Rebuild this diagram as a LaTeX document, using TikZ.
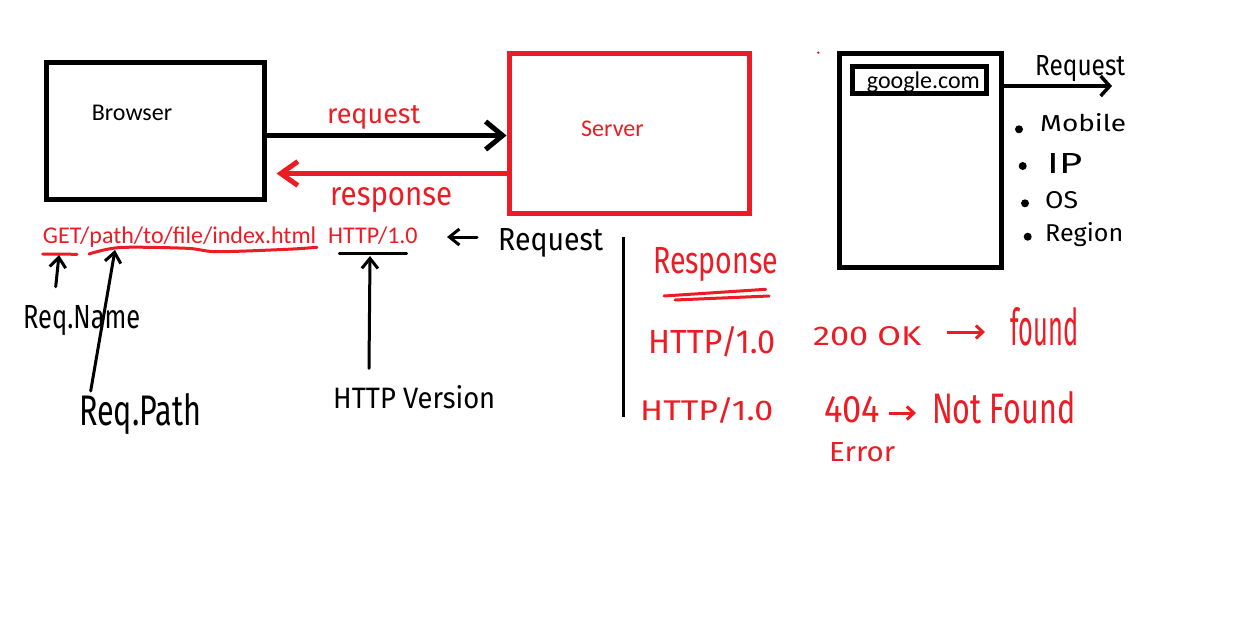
\documentclass[tikz,border=0pt]{standalone}
\usepackage{fontspec}
\setmainfont{Carlito}
\newfontfamily\handfont{Fira Sans}
\usepackage{graphicx}
\usetikzlibrary{arrows.meta}
\definecolor{pred}{RGB}{237,28,36}
\newcommand{\handtxt}[3]{\resizebox{#1pt}{#2pt}{\handfont #3}}
\begin{document}
\begin{tikzpicture}[x=1pt,y=-1pt,
  box/.style={draw,line width=5pt,inner sep=0pt},
  ptext/.style={anchor=base west,inner sep=0pt,font=\fontsize{24pt}{28pt}\selectfont},
  htext/.style={anchor=base west,inner sep=0pt},
  bigarrow/.style={line width=5pt,-{Straight Barb[length=17pt,width=28pt]}},
  smallarrow/.style={line width=3pt,line cap=round,-{Straight Barb[length=10pt,width=16pt]}},
  uline/.style={line width=3pt,line cap=round},
  bullet/.style={fill=black}]
\useasboundingbox (0,0) rectangle (1237,618);
\fill[white] (0,0) rectangle (1237,618);

% boxes
\node[box,minimum width=218pt,minimum height=136.5pt] (browser) at (155,130.75) {};
\node[box,draw=pred,minimum width=240pt,minimum height=159.5pt] (server) at (629,133.25) {};
\node[box,minimum width=161.7pt,minimum height=214pt] (phone) at (920.65,160.5) {};
\node[ptext] (gtext) at (866.7,88.3) {google.com};
\node[box,minimum width=134.3pt,minimum height=26.7pt] (gbox) at (919.65,79.85) {};

% printed texts
\node[ptext] (btext) at (91.7,121) {Browser};
\node[ptext,text=pred] (stext) at (581,136) {Server};
\node[ptext,text=pred] (getp) at (42.7,243.3) {GET/path/to/file/index.html};
\node[ptext,text=pred] (httpv) at (328,243.3) {HTTP/1.0};

% handwritten texts
\node[htext,text=pred] (hreq) at (327,123) {\handtxt{93}{18}{request}};
\node[htext,text=pred] (hresp) at (330,205) {\handtxt{122}{18}{response}};
\node[htext] (req2) at (498,250) {\handtxt{105}{22}{Request}};
\node[htext] (rname) at (23,328) {\handtxt{117}{23}{Req.Name}};
\node[htext] (rpath) at (79,425) {\handtxt{122}{32}{Req.Path}};
\node[htext] (hver) at (333,408) {\handtxt{162}{23}{HTTP Version}};
\node[htext,text=pred] (resp) at (653,273) {\handtxt{125}{26}{Response}};
\node[htext,text=pred] (h1) at (648,353) {\handtxt{127}{27}{HTTP/1.0}};
\node[htext,text=pred] (ok) at (813,345) {\handtxt{108}{19}{200 OK}};
\node[htext,text=pred] (found) at (1010,345) {\handtxt{68}{38}{found}};
\node[htext,text=pred] (h2) at (640,420) {\handtxt{133}{23}{HTTP/1.0}};
\node[htext,text=pred] (nf4) at (824,422.7) {\handtxt{56}{26}{404}};
\node[htext,text=pred] (notf) at (932,423.3) {\handtxt{143}{32}{Not Found}};
\node[htext,text=pred] (err) at (829,461.7) {\handtxt{66}{19}{Error}};
\node[htext] (preq) at (1035,75) {\handtxt{90}{20}{Request}};
\node[htext] (mob) at (1040,131.7) {\handtxt{86}{18}{Mobile}};
\node[htext] (ip) at (1047,173.3) {\handtxt{35}{20}{IP}};
\node[htext] (os) at (1045,208.3) {\handtxt{33}{17}{OS}};
\node[htext] (reg) at (1045,241.7) {\handtxt{78}{19}{Region}};

% bullets and dot
\fill[bullet] (1019,129.3) circle (4pt);
\fill[bullet] (1022.7,166) circle (4pt);
\fill[bullet] (1025,203.3) circle (4pt);
\fill[bullet] (1027.7,236.7) circle (4pt);
\fill[pred] (818.3,52.7) circle (1.3pt);

% main connectors
\coordinate (ry) at (0,135.5);
\draw[bigarrow] (browser.east |- ry) -- (server.west |- ry);
\coordinate (sy) at (0,173.5);
\draw[bigarrow,pred,shorten >=10pt,-{Straight Barb[length=17pt,width=24pt]}] (server.west |- sy) -- (browser.east |- sy);
\coordinate (py) at (0,86);
\coordinate (pend) at (1112,86);
\draw[line width=3.5pt,-{Straight Barb[length=9pt,width=20pt]}] (phone.east |- py) -- (pend);

% request pointer
\coordinate (ra1) at (477,237);
\coordinate (ra2) at (447,237);
\draw[smallarrow] (ra1) -- (ra2);

% underlines
\draw[uline,pred] (42.7,254) -- (77,254.3);
\draw[uline,pred] plot[smooth] coordinates {(89,254) (120,247.5) (187,248.3) (217,251.7) (287,249.3) (317,247.3)};
\draw[uline] (339.3,253.3) -- (406.7,253.3);
\draw[uline,pred] (664,296) -- (765.7,289.3);
\draw[uline,pred] (675,300) -- (769,296);

% annotation arrows
\coordinate (rn1) at (55.7,286.7);
\coordinate (rn2) at (59,255);
\draw[smallarrow] (rn1) -- (rn2);
\coordinate (rp1) at (90.7,391);
\coordinate (rp2) at (115,250);
\draw[smallarrow] (rp1) -- (rp2);
\coordinate (hv1) at (369,368.3);
\coordinate (hv2) at (370,256);
\draw[smallarrow] (hv1) -- (hv2);

% separator
\draw[line width=2.5pt] (623.3,236.7) -- (623.3,417.3);

% response arrows
\coordinate (a1s) at (947,332);
\coordinate (a1e) at (985,332);
\draw[pred,line width=3pt,-{Straight Barb[length=7pt,width=13pt]}] (a1s) -- (a1e);
\coordinate (a2s) at (889,413);
\coordinate (a2e) at (916,413);
\draw[pred,line width=3pt,-{Straight Barb[length=7pt,width=13pt]}] (a2s) -- (a2e);
\end{tikzpicture}
\end{document}
